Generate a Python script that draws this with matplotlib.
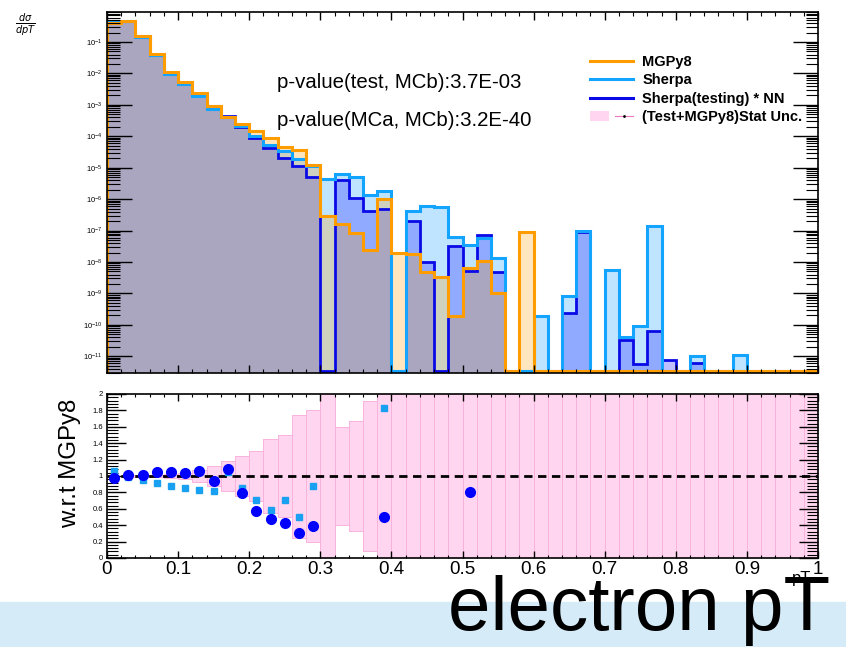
import numpy as np
import matplotlib
matplotlib.use('Agg')
import matplotlib.pyplot as plt
from matplotlib import ticker
from matplotlib.patches import Patch, Rectangle
from matplotlib.lines import Line2D
from matplotlib.legend_handler import HandlerTuple

plt.rcParams['font.family'] = ['Liberation Sans', 'DejaVu Sans']

# 50 bins of electron pT, 0 -> 1
edges = np.linspace(0, 1, 51)
centers = 0.5 * (edges[1:] + edges[:-1])

mgpy8 = [4.0e-1, 4.7e-1, 1.5e-1, 4.1e-2, 1.1e-2, 5.2e-3, 2.3e-3, 9.1e-4, 4.0e-4, 2.5e-4,
         1.5e-4, 8.7e-5, 4.7e-5, 3.8e-5, 1.26e-5, 3.0e-7, 1.6e-7, 8.1e-8, 2.5e-8, 9.8e-7,
         1.9e-8, 1.8e-8, 4.8e-9, 3.4e-9, 1.9e-10, 6.5e-9, 1.1e-8, 1.05e-9, 0, 8.9e-8,
         0, 0, 0, 0, 0, 0, 0, 0, 0, 0,
         0, 0, 0, 0, 0, 0, 0, 0, 0, 0]

sherpa = [4.24e-1, 4.63e-1, 1.43e-1, 3.77e-2, 9.6e-3, 4.45e-3, 1.9e-3, 7.5e-4, 4.2e-4, 2.1e-4,
          1.06e-4, 5.1e-5, 3.3e-5, 1.9e-5, 1.1e-5, 4.3e-6, 6.2e-6, 5.1e-6, 1.4e-6, 1.8e-6,
          0, 4.2e-7, 6.0e-7, 5.6e-7, 6.3e-8, 3.5e-8, 6.0e-8, 1.3e-8, 0, 0,
          1.9e-10, 0, 8.3e-10, 9.8e-8, 0, 5.5e-9, 4.2e-11, 9.3e-11, 1.4e-7, 0,
          0, 1.05e-11, 0, 0, 1.1e-11, 0, 0, 0, 0, 0]

sherpa_nn = [3.9e-1, 4.77e-1, 1.52e-1, 4.28e-2, 1.15e-2, 5.4e-3, 2.45e-3, 8.5e-4, 4.35e-4, 1.98e-4,
             8.6e-5, 4.2e-5, 2.0e-5, 1.14e-5, 5.0e-6, 0, 4.1e-6, 1.1e-6, 4.3e-7, 4.9e-7,
             0, 2.0e-7, 1.0e-8, 0, 3.2e-8, 5.2e-9, 7.1e-8, 4.9e-9, 0, 0,
             0, 0, 2.4e-10, 9.3e-8, 0, 0, 3.2e-11, 5.9e-12, 6.3e-11, 7.9e-12,
             0, 6.2e-12, 0, 0, 0, 0, 0, 0, 0, 0]

# stat. uncertainty (half width) of the ratio band
stat_unc = [0.005, 0.007, 0.01, 0.015, 0.02, 0.035, 0.07, 0.12, 0.18, 0.24,
            0.30, 0.45, 0.50, 0.75, 0.80, 2.0, 0.60, 0.67, 0.92, 2.0,
            2.0, 2.0, 2.0, 2.0, 2.0, 2.0, 2.0, 2.0, 2.0, 2.0,
            2.0, 2.0, 2.0, 2.0, 2.0, 2.0, 2.0, 2.0, 2.0, 2.0,
            2.0, 2.0, 2.0, 2.0, 2.0, 2.0, 2.0, 2.0, 2.0, 2.0]

ratio_sherpa_x = [0.01, 0.03, 0.05, 0.07, 0.09, 0.11, 0.13, 0.15, 0.17, 0.19,
                  0.21, 0.23, 0.25, 0.27, 0.29, 0.39]
ratio_sherpa = [1.06, 0.985, 0.95, 0.92, 0.876, 0.855, 0.827, 0.82, 1.05, 0.85,
                0.705, 0.59, 0.705, 0.50, 0.876, 1.83]
ratio_nn_x = [0.01, 0.03, 0.05, 0.07, 0.09, 0.11, 0.13, 0.15, 0.17, 0.19,
              0.21, 0.23, 0.25, 0.27, 0.29, 0.39, 0.51]
ratio_nn = [0.977, 1.014, 1.014, 1.043, 1.043, 1.04, 1.063, 0.933, 1.087, 0.79,
            0.574, 0.48, 0.424, 0.30, 0.395, 0.50, 0.80]

c_orange = '#ff9c00'
c_sherpa = '#12a4ff'
c_nn = '#0a0ae6'

ymin = 2.95e-12
floor = 3.3e-12   # empty bins drawn just above the frame, like ROOT

fig = plt.figure(figsize=(8.46, 6.47), dpi=100)
fig.patches.append(Rectangle((0, 0), 1, 45/647, transform=fig.transFigure,
                             color='#d5ebf7', zorder=0))

ax = fig.add_axes([107/846, 1-373/647, 711/846, 361/647])
ax2 = fig.add_axes([107/846, 1-558/647, 711/846, 164/647])

def clip(v):
    v = np.asarray(v, dtype=float)
    return np.where(v > 0, v, floor)

# fills: sherpa, nn, then mgpy8 on top
ax.stairs(clip(sherpa), edges, baseline=ymin, fill=True, color=(0, 150/255, 1, 0.25), lw=0)
ax.stairs(clip(sherpa_nn), edges, baseline=ymin, fill=True, color=(0, 0, 1, 0.25), lw=0)
ax.stairs(clip(mgpy8), edges, baseline=ymin, fill=True, color=(1, 156/255, 0, 0.25), lw=0)
ax.stairs(clip(sherpa_nn), edges, baseline=ymin, color=c_nn, lw=2.0)
ax.stairs(clip(sherpa), edges, baseline=ymin, color=c_sherpa, lw=2.2)
ax.stairs(clip(mgpy8), edges, baseline=ymin, color=c_orange, lw=2.2)

ax.set_yscale('log')
ax.set_xlim(0, 1)
ax.set_ylim(ymin, 0.9)
ax.yaxis.set_major_locator(ticker.LogLocator(base=10, numticks=20))
ax.yaxis.set_minor_locator(ticker.LogLocator(base=10, subs=np.arange(2, 10), numticks=20))
ax.yaxis.set_minor_formatter(ticker.NullFormatter())
ax.xaxis.set_major_locator(ticker.MultipleLocator(0.1))
ax.xaxis.set_minor_locator(ticker.MultipleLocator(0.02))
ax.tick_params(which='both', direction='in', top=True, right=True, labelbottom=False)
ax.tick_params(axis='y', which='major', length=18, width=1, labelsize=5.5, pad=3)
ax.tick_params(axis='y', which='minor', length=9, width=0.8)
ax.tick_params(axis='x', which='major', length=6, width=1)
ax.tick_params(axis='x', which='minor', length=3, width=0.8)
for s in ax.spines.values():
    s.set_linewidth(1.2)

ax.text(0.239, 0.806, 'p-value(test, MCb):3.7E-03', transform=ax.transAxes,
        fontsize=14.7, va='center')
ax.text(0.239, 0.70, 'p-value(MCa, MCb):3.2E-40', transform=ax.transAxes,
        fontsize=14.7, va='center')

handles = [Line2D([], [], color=c_orange, lw=2.2),
           Line2D([], [], color=c_sherpa, lw=2.2),
           Line2D([], [], color=c_nn, lw=2.2),
           (Patch(facecolor='#ffd5ef', edgecolor='none'),
            Line2D([], [], color='#f07ac0', lw=0.8, marker='.', markersize=2,
                   markerfacecolor='k', markeredgecolor='k'))]
labels = ['MGPy8', 'Sherpa', 'Sherpa(testing) * NN', '(Test+MGPy8)Stat Unc.']
ax.legend(handles, labels, loc='upper left', bbox_to_anchor=(0.661, 0.917),
          frameon=False, prop={'weight': 'bold', 'size': 10.5}, labelspacing=0.3,
          handlelength=2.95, handletextpad=0.62,
          handler_map={tuple: HandlerTuple(ndivide=None)})

fig.text(25/846, 1-25/647, r'$\frac{d\sigma}{dpT}$', fontsize=10, ha='center', va='center')

# ratio panel
ax2.bar(centers, 2*np.asarray(stat_unc), bottom=1-np.asarray(stat_unc), width=0.02,
        color='#ffd5ef', edgecolor='#f9b2dc', linewidth=0.7, zorder=1)
ax2.axhline(1, color='k', ls=(0, (3, 2)), lw=2.0, zorder=2)
ax2.plot(ratio_sherpa_x, ratio_sherpa, 's', color='#1aa0f0', markersize=4, zorder=3)
ax2.plot(ratio_nn_x, ratio_nn, 'o', color='#0000ff', markersize=7, zorder=4)
ax2.set_xlim(0, 1)
ax2.set_ylim(0, 2)
ax2.xaxis.set_major_locator(ticker.MultipleLocator(0.1))
ax2.xaxis.set_minor_locator(ticker.MultipleLocator(0.02))
ax2.yaxis.set_major_locator(ticker.MultipleLocator(0.2))
ax2.yaxis.set_minor_locator(ticker.MultipleLocator(0.04))
ax2.xaxis.set_major_formatter(ticker.FormatStrFormatter('%g'))
ax2.yaxis.set_major_formatter(ticker.FormatStrFormatter('%g'))
ax2.tick_params(which='both', direction='in', top=True, right=True)
ax2.tick_params(axis='y', which='major', length=14, width=1, labelsize=5.5, pad=3)
ax2.tick_params(axis='y', which='minor', length=8, width=0.8)
ax2.tick_params(axis='x', which='major', length=5, width=1, labelsize=13.5, pad=2)
ax2.tick_params(axis='x', which='minor', length=2.5, width=0.8)
for s in ax2.spines.values():
    s.set_linewidth(1.2)
    s.set_zorder(5)
ax2.set_ylabel('w.r.t MGPy8', fontsize=17.3)
ax2.yaxis.set_label_coords(-0.037, 0.58)

fig.text(811/846, 1-578/647, 'pT', fontsize=12, ha='right', va='center')
fig.text(830/846, 1-630/647, 'electron pT', fontsize=55, ha='right', va='baseline')

fig.savefig('out.png', dpi=100)
